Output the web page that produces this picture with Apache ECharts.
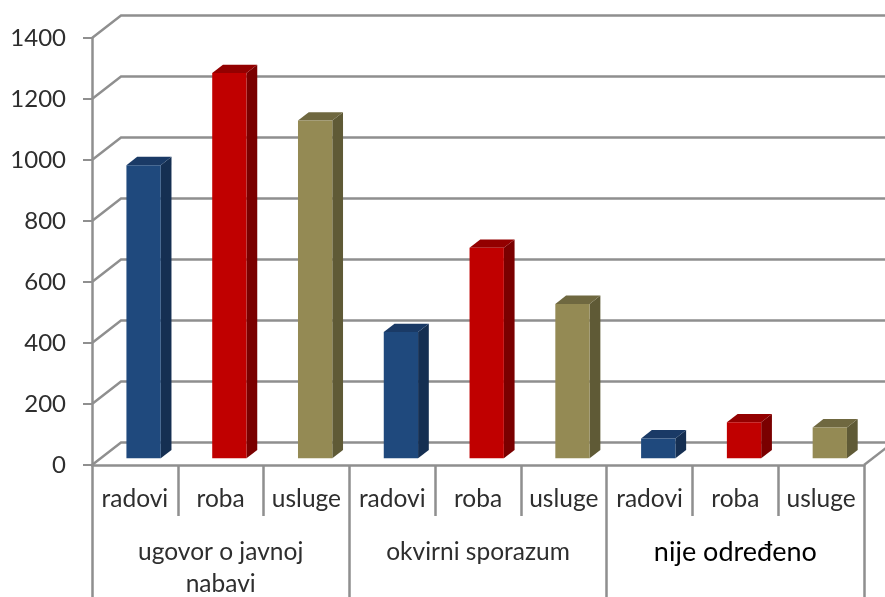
<!DOCTYPE html>
<html>
<head>
<meta charset="utf-8">
<style>html,body{margin:0;padding:0;background:#fff}#c{width:885px;height:597px}</style>
<script src="https://cdn.jsdelivr.net/npm/echarts@6/dist/echarts.min.js"></script>
</head>
<body>
<div id="c"></div>
<script>
const types = ['radovi', 'roba', 'usluge'];
const groups = ['ugovor o javnoj\nnabavi', 'okvirni sporazum', 'nije određeno'];
const ugovorValues = [961, 1263, 1107];
const okvirniValues = [414, 690, 506];
const nijeValues = [65, 118, 101];
const yTicks = [0, 200, 400, 600, 800, 1000, 1200, 1400];

const categories = groups.flatMap(() => types);
const values = [...ugovorValues, ...okvirniValues, ...nijeValues];

const faceColors = ['#1f497d', '#c00000', '#948a54'];
const sideColors = ['#152f52', '#7a0000', '#5f5a36'];
const topColors = ['#1a3a66', '#930000', '#6f6840'];
const gridColor = '#8f8f8f';
const textColor = '#2e2e2e';

// Oblique projection of the 3D box
const wallDx = 29, wallDy = -22.5;   // front plane to back wall
const barInset = 0.3;                // bar front face sits this far into the depth
const barDepth = 0.37;               // bar depth as a fraction of the full depth
const barRatio = 0.4;                // bar width as a fraction of the category

function renderGrid(params, api) {
  const v = api.value(0);
  const halfCat = api.size([1, 0])[0] / 2;
  const left = api.coord([0, v]);
  const right = api.coord([categories.length - 1, v]);
  const x0 = left[0] - halfCat, x1 = right[0] + halfCat, y = left[1];
  const style = { stroke: gridColor, lineWidth: 2.4, fill: null };
  const children = [{
    type: 'polyline',
    shape: { points: [[x0, y], [x0 + wallDx, y + wallDy], [x1 + wallDx, y + wallDy]] },
    style
  }];
  if (v === 0) {
    children.push({
      type: 'line',
      shape: { x1: x1, y1: y, x2: x1 + wallDx, y2: y + wallDy },
      style
    });
  }
  return { type: 'group', children };
}

function renderBar(params, api) {
  const idx = api.value(0);
  const val = api.value(1);
  const colorIdx = idx % types.length;
  const base = api.coord([idx, 0]);
  const top = api.coord([idx, val]);
  const w = api.size([1, 0])[0] * barRatio;
  const ox = wallDx * barInset, oy = wallDy * barInset;
  const dx = wallDx * barDepth, dy = wallDy * barDepth;
  const xl = base[0] - w / 2 + ox, xr = base[0] + w / 2 + ox;
  const yb = base[1] + oy, yt = top[1] + oy;
  return {
    type: 'group',
    children: [
      { type: 'polygon', shape: { points: [[xr, yt], [xr + dx, yt + dy], [xr + dx, yb + dy], [xr, yb]] }, style: { fill: sideColors[colorIdx] } },
      { type: 'polygon', shape: { points: [[xl, yt], [xl + dx, yt + dy], [xr + dx, yt + dy], [xr, yt]] }, style: { fill: topColors[colorIdx] } },
      { type: 'rect', shape: { x: xl, y: yt, width: w, height: yb - yt }, style: { fill: faceColors[colorIdx] } }
    ]
  };
}

const font = 'Lato, "Open Sans", sans-serif';
const chart = echarts.init(document.getElementById('c'), null, { renderer: 'canvas' });
chart.setOption({
  animation: false,
  backgroundColor: '#ffffff',
  grid: { left: 92, right: 21, top: 38, height: 427, containLabel: false, outerBoundsMode: 'none' },
  xAxis: [
    {
      type: 'category',
      data: categories,
      position: 'bottom',
      boundaryGap: true,
      axisLine: { show: true, lineStyle: { color: gridColor, width: 2.5 } },
      axisTick: { show: true, alignWithLabel: false, length: 51, interval: 0, lineStyle: { color: gridColor, width: 2.5 } },
      axisLabel: { interval: 0, margin: 22, color: textColor, fontFamily: font, fontSize: 24.5, hideOverlap: false },
      splitLine: { show: false }
    },
    {
      type: 'category',
      data: groups.map((g, i) => i === 2
        ? { value: g, textStyle: { color: '#000000', fontSize: 27 } }
        : { value: g }),
      position: 'bottom',
      boundaryGap: true,
      axisLine: { show: false },
      axisTick: { show: true, alignWithLabel: false, length: 135, interval: 0, lineStyle: { color: gridColor, width: 2.5 } },
      axisLabel: { interval: 0, margin: 71, color: textColor, fontFamily: font, fontSize: 24.5, lineHeight: 32, hideOverlap: false, verticalAlign: 'top' },
      splitLine: { show: false }
    }
  ],
  yAxis: {
    type: 'value',
    min: 0,
    max: 1400,
    interval: 200,
    axisLine: { show: true, lineStyle: { color: gridColor, width: 2.5 } },
    axisTick: { show: true, length: 9, lineStyle: { color: gridColor, width: 2 } },
    axisLabel: { margin: 26, color: textColor, fontFamily: font, fontSize: 24, formatter: v => String(v) },
    splitLine: { show: false }
  },
  series: [
    {
      type: 'custom',
      name: 'grid',
      silent: true,
      z: 1,
      clip: false,
      renderItem: renderGrid,
      encode: { y: 0 },
      data: yTicks.map(t => [t])
    },
    {
      type: 'custom',
      name: 'bars',
      z: 3,
      clip: false,
      renderItem: renderBar,
      encode: { x: 0, y: 1 },
      data: values.map((v, i) => [i, v])
    }
  ]
});
</script>
</body>
</html>
